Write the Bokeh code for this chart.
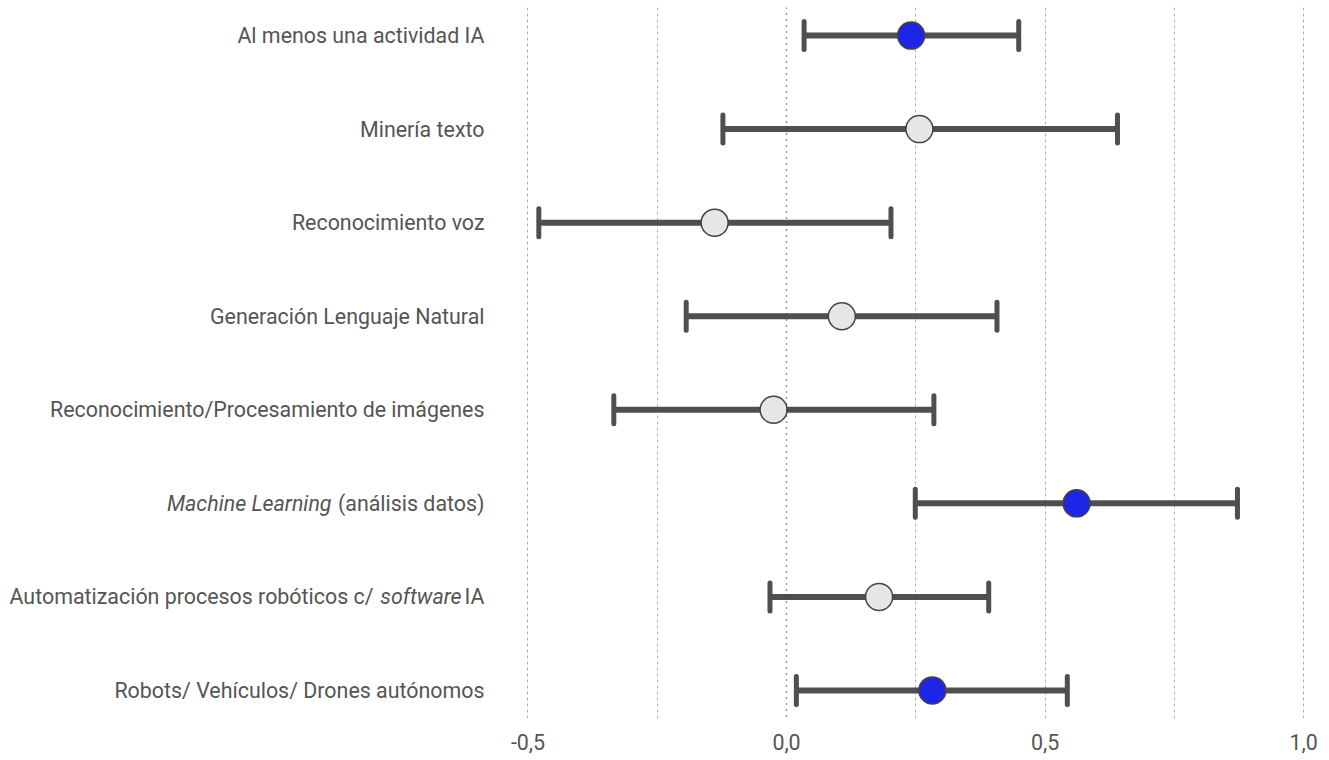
from bokeh.plotting import figure
from bokeh.models import Range1d, FixedTicker, Span, ColumnDataSource
from bokeh.core.properties import value
from bokeh.embed import file_html
from bokeh.resources import INLINE

# Activities, top to bottom
activities = [
    "Al menos una actividad IA",
    "Minería texto",
    "Reconocimiento voz",
    "Generación Lenguaje Natural",
    "Reconocimiento/Procesamiento de imágenes",
    "Machine Learning (análisis datos)",
    "Automatización procesos robóticos c/ software IA",
    "Robots/ Vehículos/ Drones autónomos",
]
# Point estimates and confidence interval bounds
estimate = [0.241, 0.257, -0.139, 0.107, -0.025, 0.561, 0.179, 0.282]
lower = [0.034, -0.123, -0.479, -0.194, -0.334, 0.249, -0.032, 0.019]
upper = [0.449, 0.640, 0.202, 0.407, 0.285, 0.872, 0.391, 0.543]
significant = [True, False, False, False, False, True, False, True]

tick_values = [-0.5, 0.0, 0.5, 1.0]
tick_labels = ["-0,5", "0,0", "0,5", "1,0"]
grid_values = [-0.5, -0.25, 0.25, 0.5, 0.75, 1.0]

# Label pieces: (row, text, style, offset from the right edge of the label column)
label_pieces = [
    (0, "Al menos una actividad IA", "normal", 0),
    (1, "Minería texto", "normal", 0),
    (2, "Reconocimiento voz", "normal", 0),
    (3, "Generación Lenguaje Natural", "normal", 0),
    (4, "Reconocimiento/Procesamiento de imágenes", "normal", 0),
    (5, "(análisis datos)", "normal", 0),
    (5, "Machine Learning", "italic", -153),
    (6, "IA", "normal", 0),
    (6, "software", "italic", -23),
    (6, "Automatización procesos robóticos c/", "normal", -111),
    (7, "Robots/ Vehículos/ Drones autónomos", "normal", 0),
]

FONT = "Roboto"
FONT_SIZE = "21.4px"
TEXT_COLOR = "#555555"
BAR_COLOR = "#4f4f4f"
X_START, X_END = -1.52, 1.05
LABEL_RIGHT = 484

rows = list(range(len(activities)))
src = ColumnDataSource(dict(
    y=rows, est=estimate, lo=lower, hi=upper,
    fill=["#1d25e6" if s else "#e6e6e6" for s in significant],
))

p = figure(
    frame_width=1329, frame_height=711,
    x_range=Range1d(X_START, X_END), y_range=Range1d(7.3, -0.3),
    output_backend="svg", toolbar_location=None,
    min_border_top=7, min_border_left=0, min_border_right=0, min_border_bottom=42,
    y_axis_location=None,
)
p.outline_line_color = None
p.background_fill_color = "white"
p.border_fill_color = "white"

# x axis
p.xaxis.ticker = FixedTicker(ticks=tick_values)
p.xaxis.major_label_overrides = dict(zip(tick_values, tick_labels))
p.xaxis.axis_line_color = None
p.xaxis.major_tick_line_color = None
p.xaxis.minor_tick_line_color = None
p.xaxis.major_tick_out = 0
p.xaxis.major_tick_in = 0
p.xaxis.major_label_standoff = 15
p.xaxis.major_label_text_font = FONT
p.xaxis.major_label_text_font_size = FONT_SIZE
p.xaxis.major_label_text_color = TEXT_COLOR

# grid
p.ygrid.grid_line_color = None
p.xgrid.ticker = FixedTicker(ticks=grid_values)
p.xgrid.grid_line_color = "#b0b0b0"
p.xgrid.grid_line_width = 1
p.xgrid.grid_line_dash = "3 3"

zero = Span(location=0, dimension="height", line_color="#333333",
            line_width=1.5, line_dash="1 5")
p.add_layout(zero)

# confidence intervals
p.segment(x0="lo", x1="hi", y0="y", y1="y", source=src,
          line_color=BAR_COLOR, line_width=6)
for col in ("lo", "hi"):
    p.scatter(x=col, y="y", source=src, marker="dash", angle=1.5708,
              size=28, line_color=BAR_COLOR, line_width=5, line_cap="round")

# point estimates
p.scatter(x="est", y="y", source=src, marker="circle", size=27,
          fill_color="fill", line_color="#444444", line_width=1.5)

# category labels
for style in ("normal", "italic"):
    pieces = [lp for lp in label_pieces if lp[2] == style]
    p.text(
        x=[X_START] * len(pieces), y=[lp[0] for lp in pieces],
        text=[lp[1] for lp in pieces],
        x_offset=[LABEL_RIGHT + lp[3] for lp in pieces],
        text_align="right", text_baseline="middle",
        text_font=value(FONT), text_font_style=style,
        text_font_size=FONT_SIZE, text_color=TEXT_COLOR,
    )

open("out.html", "w").write(file_html(p, INLINE))
